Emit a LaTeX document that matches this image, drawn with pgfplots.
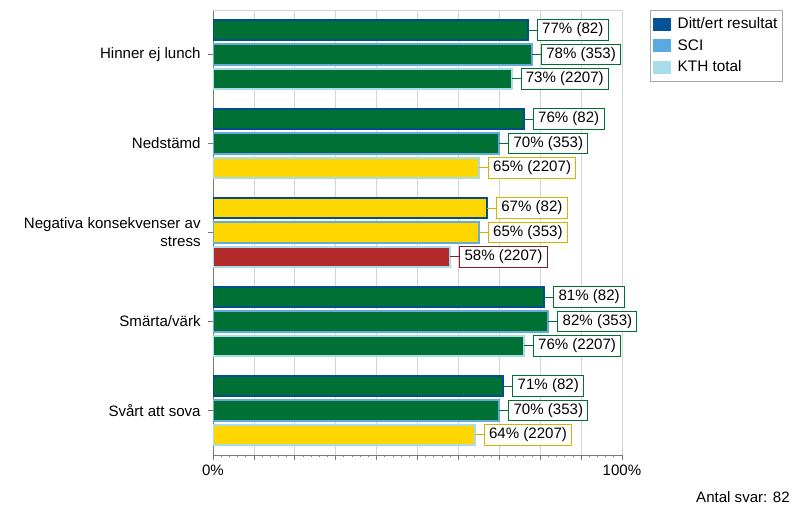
\documentclass[border=0pt]{standalone}
\usepackage{pgfplots}
\pgfplotsset{compat=1.18}
\usepackage{fontspec}
\setmainfont{Liberation Sans}
\definecolor{kgreen}{RGB}{0,112,52}
\definecolor{kyellow}{RGB}{255,214,0}
\definecolor{kyellowb}{RGB}{215,178,0}
\definecolor{kred}{RGB}{178,42,42}
\definecolor{kredb}{RGB}{130,30,40}
\definecolor{cDitt}{RGB}{0,78,140}
\definecolor{cSCI}{RGB}{100,172,215}
\definecolor{cKTH}{RGB}{168,220,232}
\definecolor{lDitt}{RGB}{5,82,150}
\definecolor{lSCI}{RGB}{90,170,225}
\definecolor{lKTH}{RGB}{168,220,232}
\definecolor{gridc}{RGB}{212,212,212}
\definecolor{axisc}{RGB}{120,120,120}
\pgfplotsset{
  barbase/.style={xbar, bar width=0.23, bar shift=0, line width=1.5pt, forget plot,
    nodes near coords, point meta=explicit symbolic,
    every node near coord/.append style={anchor=west, xshift=6.75pt, fill=white, text=black,
      inner xsep=3.6pt, inner ysep=1pt, minimum height=15.5pt, line width=0.75pt},
    error bars/x dir=plus, error bars/x fixed=2.2, error bars/error mark=none},
  grnbar/.style={barbase, fill=kgreen,
    every node near coord/.append style={draw=kgreen},
    error bars/error bar style={draw=kgreen, line width=0.75pt}},
  ylwbar/.style={barbase, fill=kyellow,
    every node near coord/.append style={draw=kyellowb},
    error bars/error bar style={draw=kyellowb, line width=0.75pt}},
  redbar/.style={barbase, fill=kred,
    every node near coord/.append style={draw=kredb},
    error bars/error bar style={draw=kredb, line width=0.75pt}},
}
\begin{document}
\begin{tikzpicture}[font=\fontsize{11.3}{13.5}\selectfont]
\useasboundingbox (0,0) rectangle (600pt,386.25pt);
\begin{axis}[
  at={(159.75pt,45pt)}, anchor=south west,
  scale only axis, width=306.75pt, height=333.75pt,
  xmin=0, xmax=100, ymin=-0.5, ymax=4.5,
  xtick={0,10,...,100},
  xticklabels={0\%,,,,,,,,,,100\%},
  minor x tick num=4,
  xmajorgrids, major grid style={draw=gridc, line width=0.6pt},
  ytick={0,1,2,3,4},
  yticklabels={Svårt att sova, Smärta/värk, {Negativa konsekvenser av\\stress}, Nedstämd, Hinner ej lunch},
  yticklabel style={align=right, xshift=-2pt},
  axis x line*=bottom, axis y line*=left,
  axis line style={draw=axisc, line width=0.75pt},
  tick align=outside,
  major tick length=3.75pt, minor tick length=1.5pt,
  every tick/.style={axisc, line width=0.6pt},
  legend style={at={(1,1)}, anchor=north west, xshift=21pt, yshift=0pt,
    draw=gridc!80!black, line width=0.6pt, inner xsep=2pt, inner ysep=3.5pt, row sep=2.4pt,
    font=\fontsize{11.5}{13.5}\selectfont},
  legend cell align=left,
  legend image code/.code={\path[#1, draw=none] (0pt,-4.9pt) rectangle (13.5pt,4.9pt); \path[draw=none, fill=none] (13.5pt,0pt) -- (16.5pt,0pt);},
]
\draw[gridc, line width=0.6pt] (axis cs:0,4.5) -- (axis cs:100,4.5);
% Ditt/ert resultat
\addplot[grnbar, draw=cDitt] coordinates {(77,4.275) [77\% (82)] (76,3.275) [76\% (82)] (81,1.275) [81\% (82)] (71,0.275) [71\% (82)]};
\addplot[ylwbar, draw=cDitt] coordinates {(67,2.275) [67\% (82)]};
% SCI
\addplot[grnbar, draw=cSCI] coordinates {(78,4) [78\% (353)] (70,3) [70\% (353)] (82,1) [82\% (353)] (70,0) [70\% (353)]};
\addplot[ylwbar, draw=cSCI] coordinates {(65,2) [65\% (353)]};
% KTH total
\addplot[grnbar, draw=cKTH] coordinates {(73,3.725) [73\% (2207)] (76,0.725) [76\% (2207)]};
\addplot[ylwbar, draw=cKTH] coordinates {(65,2.725) [65\% (2207)] (64,-0.275) [64\% (2207)]};
\addplot[redbar, draw=cKTH] coordinates {(58,1.725) [58\% (2207)]};
\addlegendimage{fill=lDitt}
\addlegendentry{Ditt/ert resultat}
\addlegendimage{fill=lSCI}
\addlegendentry{SCI}
\addlegendimage{fill=lKTH}
\addlegendentry{KTH total}
\end{axis}
\node[anchor=east, inner sep=0pt] at (592.5pt,13.5pt) {Antal svar: 82};
\end{tikzpicture}
\end{document}
